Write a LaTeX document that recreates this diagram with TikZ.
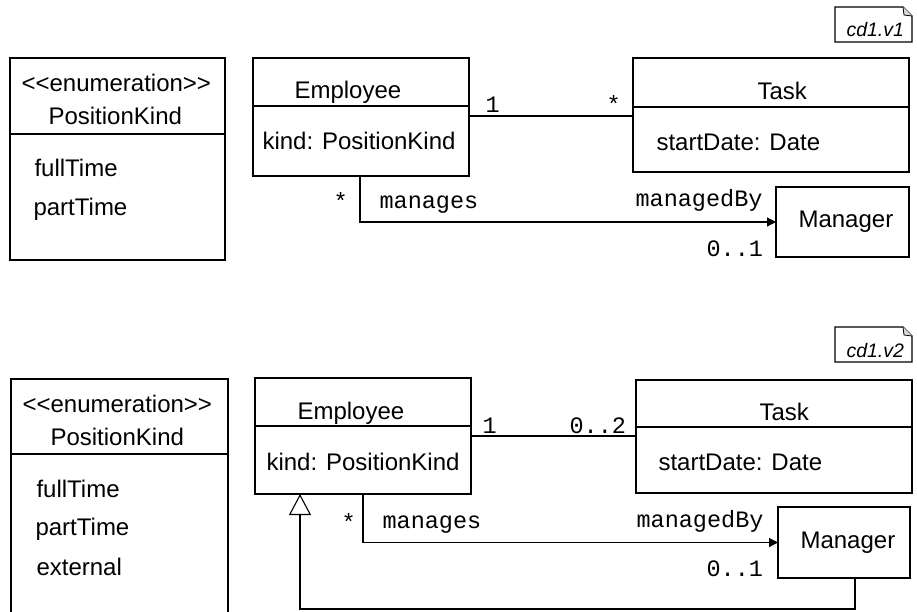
\documentclass[tikz,border=0pt]{standalone}
\usepackage{fontspec}
\setmainfont{Liberation Sans}
\setmonofont{Liberation Mono}
\usetikzlibrary{arrows.meta}

\begin{document}
\begin{tikzpicture}[x=1pt,y=-1pt,line width=1.1pt,
    box/.style={draw,rectangle,inner sep=0pt,outer sep=0pt},
    txt/.style={inner sep=0pt,anchor=base west,font=\fontsize{24}{28}\selectfont},
    mono/.style={inner sep=0pt,anchor=base west,font=\ttfamily\fontsize{23.5}{28}\selectfont},
    tag/.style={inner sep=0pt,anchor=base west,font=\itshape\fontsize{19.5}{23}\selectfont},
    assoc/.style={-{Triangle[length=9pt,width=9pt]}},
    gen/.style={-{Triangle[open,length=21pt,width=22pt,fill=white]}}]
    \useasboundingbox (0,0) rectangle (917,612);

    % version 1
    \node[box,minimum width=215pt,minimum height=202pt] (enum1) at (117.5,159) {};
    \node[box,minimum width=216pt,minimum height=118pt] (emp1) at (361,117) {};
    \node[box,minimum width=276pt,minimum height=114pt] (task1) at (771,115) {};
    \node[box,minimum width=133pt,minimum height=70pt] (mgr1) at (842.5,222) {};
    \draw (enum1.west |- 0,134) -- (enum1.east |- 0,134);
    \draw (emp1.west |- 0,106) -- (emp1.east |- 0,106);
    \draw (task1.west |- 0,107) -- (task1.east |- 0,107);

    \node[txt] (enum1a) at (21,92) {<\kern0pt<enumeration>\kern0pt>};
    \node[txt] (enum1b) at (48,125) {PositionKind};
    \node[txt] (lit1a) at (34,177) {fullTime};
    \node[txt] (lit1b) at (33,215) {partTime};
    \node[txt] (emp1t) at (294,99) {Employee};
    \node[txt] (emp1k) at (262,150) {kind: PositionKind};
    \node[txt] (task1t) at (757,100) {Task};
    \node[txt] (task1d) at (656,151) {startDate: Date};
    \node[txt] (mgr1t) at (798,228) {Manager};

    \node[mono] (mult1a) at (485,113) {1};
    \node[mono] (mult1b) at (606,113) {*};
    \node[mono] (mult1c) at (333,210) {*};
    \node[mono] (role1a) at (379,208) {manages};
    \node[mono] (role1b) at (635,207) {managedBy};
    \node[mono] (mult1d) at (706,256) {0..1};

    \draw (emp1.east |- 0,116) -- (task1.west |- 0,116);
    \draw[assoc] (emp1.south -| 360,0) |- (mgr1.west);

    \node[box,draw=none,minimum width=77pt,minimum height=35pt] (note1) at (873.5,24.5) {};
    \draw (note1.north west) -- ([xshift=-9pt]note1.north east) -- ([yshift=-9pt]note1.north east)
        -- (note1.south east) -- (note1.south west) -- cycle;
    \draw[fill=gray!30,line width=0.8pt] ([xshift=-9pt]note1.north east) -- ([xshift=-8pt,yshift=-8pt]note1.north east)
        -- ([yshift=-9pt]note1.north east);
    \node[tag] (note1t) at (846,37) {cd1.v1};

    % version 2
    \node[box,minimum width=217pt,minimum height=246pt] (enum2) at (119.5,502) {};
    \node[box,minimum width=216pt,minimum height=116pt] (emp2) at (363,436) {};
    \node[box,minimum width=276pt,minimum height=113pt] (task2) at (774,436.5) {};
    \node[box,minimum width=132pt,minimum height=71pt] (mgr2) at (844,542.5) {};
    \draw (enum2.west |- 0,454) -- (enum2.east |- 0,454);
    \draw (emp2.west |- 0,426) -- (emp2.east |- 0,426);
    \draw (task2.west |- 0,427) -- (task2.east |- 0,427);

    \node[txt] (enum2a) at (22,412) {<\kern0pt<enumeration>\kern0pt>};
    \node[txt] (enum2b) at (50,445) {PositionKind};
    \node[txt] (lit2a) at (36,497) {fullTime};
    \node[txt] (lit2b) at (35,535) {partTime};
    \node[txt] (lit2c) at (36,575) {external};
    \node[txt] (emp2t) at (297,419) {Employee};
    \node[txt] (emp2k) at (266,470) {kind: PositionKind};
    \node[txt] (task2t) at (759,420) {Task};
    \node[txt] (task2d) at (658,470) {startDate: Date};
    \node[txt] (mgr2t) at (800,548) {Manager};

    \node[mono] (mult2a) at (482,433) {1};
    \node[mono] (mult2b) at (569,433) {0..2};
    \node[mono] (mult2c) at (341,530) {*};
    \node[mono] (role2a) at (382,528) {manages};
    \node[mono] (role2b) at (636,527) {managedBy};
    \node[mono] (mult2d) at (706,576) {0..1};

    \draw (emp2.east) -- (emp2.east -| task2.west);
    \draw[assoc] (emp2.south -| 363,0) |- (mgr2.west);
    \coordinate (g1) at (855,609);
    \coordinate (g2) at (300,609);
    \draw[gen] (mgr2.south -| g1) -- (g1) -- (g2) -- (emp2.south -| g2);

    \node[box,draw=none,minimum width=77pt,minimum height=35pt] (note2) at (873.5,344.5) {};
    \draw (note2.north west) -- ([xshift=-9pt]note2.north east) -- ([yshift=-9pt]note2.north east)
        -- (note2.south east) -- (note2.south west) -- cycle;
    \draw[fill=gray!30,line width=0.8pt] ([xshift=-9pt]note2.north east) -- ([xshift=-8pt,yshift=-8pt]note2.north east)
        -- ([yshift=-9pt]note2.north east);
    \node[tag] (note2t) at (846,357) {cd1.v2};
\end{tikzpicture}
\end{document}
